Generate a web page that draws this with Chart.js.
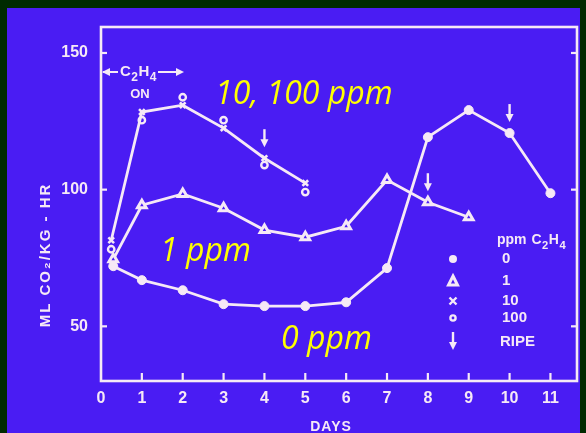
<!DOCTYPE html>
<html><head><meta charset="utf-8">
<script src="https://cdn.jsdelivr.net/npm/chart.js@4"></script>
<style>html,body{margin:0;padding:0;background:#002a00;overflow:hidden}canvas{display:block}</style>
</head><body>
<canvas id="c" width="586" height="433"></canvas>
<script>
// ---- data ----
const days0   = [0.3, 1, 2, 3, 4, 5, 6, 7, 8, 9, 10, 11];
const resp0   = [72.0, 66.9, 63.2, 58.1, 57.4, 57.4, 58.8, 71.3, 119.2, 129.1, 120.7, 98.7];
const days1   = [0.3, 1, 2, 3, 4, 5, 6, 7, 8, 9];
const resp1   = [74.5, 94.3, 98.4, 93.2, 85.2, 82.6, 86.6, 103.5, 95.4, 89.9];
const days10  = [0.25, 1, 2, 3, 4, 5];
const resp10  = [81.5, 128.4, 130.9, 122.5, 111.5, 102.4];
const days100 = [0.25, 1, 2, 3, 4, 5];
const resp100 = [78.2, 125.4, 133.8, 125.4, 109.0, 99.1];
const ripeDays   = [4, 8, 10];
const ripeValues = [111.5, 95.4, 120.7];
const xTicks = [0, 1, 2, 3, 4, 5, 6, 7, 8, 9, 10, 11];
const yTicks = [50, 100, 150];
const seriesLabels = ['0', '1', '10', '100'];
const ripeLabel = 'RIPE';
const xTitle = 'DAYS';
const yTitle = 'ML CO\u2082/KG - HR';
const notes = ['10, 100 ppm', '1 ppm', '0 ppm'];

const BLUE = '#4a1cf3';
const WHITE = '#f6e9f6';
const YELLOW = '#ffff00';
const LBL = 'bold 15px "Liberation Sans", "DejaVu Sans", sans-serif';

const pts = (xs, ys) => xs.map((x, i) => ({x: x, y: ys[i]}));

function arrowDown(ctx, x, yTop, yTip) {
  ctx.save();
  ctx.strokeStyle = WHITE; ctx.fillStyle = WHITE; ctx.lineWidth = 2.4;
  ctx.beginPath(); ctx.moveTo(x, yTop); ctx.lineTo(x, yTip - 5); ctx.stroke();
  ctx.beginPath(); ctx.moveTo(x - 4, yTip - 8); ctx.lineTo(x + 4, yTip - 8); ctx.lineTo(x, yTip); ctx.closePath(); ctx.fill();
  ctx.restore();
}
function subText(ctx, parts, x, y, size) {
  let cx = x;
  parts.forEach(p => {
    ctx.font = 'bold ' + (p[1] ? size * 0.8 : size) + 'px "Liberation Sans", "DejaVu Sans", sans-serif';
    ctx.fillText(p[0], cx, y + (p[1] ? size * 0.4 : 0));
    cx += ctx.measureText(p[0]).width + 0.5;
  });
  return cx;
}

const deco = {
  id: 'deco',
  beforeDraw(chart) {
    const ctx = chart.ctx;
    ctx.save();
    ctx.fillStyle = '#002a00'; ctx.fillRect(0, 0, chart.width, chart.height);
    ctx.fillStyle = BLUE; ctx.fillRect(7, 8, 573, 425);
    ctx.restore();
  },
  afterDatasetsDraw(chart) {
    const ctx = chart.ctx, a = chart.chartArea;
    const xs = chart.scales.x, ys = chart.scales.y;
    ctx.save();
    ctx.strokeStyle = WHITE; ctx.lineWidth = 2.6;
    ctx.strokeRect(a.left, a.top, a.right - a.left, a.bottom - a.top);
    ctx.lineWidth = 2.2;
    xTicks.forEach(v => { if (v === 0) return; const px = xs.getPixelForValue(v);
      ctx.beginPath(); ctx.moveTo(px, a.bottom); ctx.lineTo(px, a.bottom - 8); ctx.stroke(); });
    yTicks.forEach(v => { const py = ys.getPixelForValue(v);
      ctx.beginPath(); ctx.moveTo(a.left, py); ctx.lineTo(a.left + 6, py); ctx.stroke();
      ctx.beginPath(); ctx.moveTo(a.right, py); ctx.lineTo(a.right - 6, py); ctx.stroke(); });

    ctx.fillStyle = WHITE;
    ctx.textBaseline = 'middle'; ctx.textAlign = 'center';
    ctx.font = 'bold 14px "Liberation Sans", sans-serif';
    ctx.letterSpacing = '1px';
    ctx.fillText(xTitle, 331, 427);
    ctx.save();
    ctx.translate(46, 255); ctx.rotate(-Math.PI / 2);
    ctx.font = 'bold 15px "Liberation Sans", "DejaVu Sans", sans-serif';
    ctx.letterSpacing = '2px';
    ctx.fillText(yTitle, 0, 0);
    ctx.restore();
    ctx.letterSpacing = '0px';

    ctx.textAlign = 'left';
    const endX = subText(ctx, [['C', 0], ['2', 1], ['H', 0], ['4', 1]], 120, 72, 15);
    ctx.lineWidth = 2.2;
    ctx.beginPath(); ctx.moveTo(a.left + 2, 72); ctx.lineTo(118, 72); ctx.moveTo(endX + 1, 72); ctx.lineTo(181, 72); ctx.stroke();
    ctx.beginPath(); ctx.moveTo(a.left + 1, 72); ctx.lineTo(a.left + 9, 68); ctx.lineTo(a.left + 9, 76); ctx.closePath(); ctx.fill();
    ctx.beginPath(); ctx.moveTo(184, 72); ctx.lineTo(176, 68); ctx.lineTo(176, 76); ctx.closePath(); ctx.fill();
    ctx.font = 'bold 13px "Liberation Sans", sans-serif';
    ctx.textAlign = 'center';
    ctx.fillText('ON', 140, 94);

    ripeDays.forEach((d, i) => {
      const px = xs.getPixelForValue(d), py = ys.getPixelForValue(ripeValues[i]);
      arrowDown(ctx, px, py - 29, py - 11);
    });

    ctx.textAlign = 'left';
    const lx = 453, rows = [259, 281, 301, 318];
    subText(ctx, [['ppm', 0], [' ', 0], ['C', 0], ['2', 1], ['H', 0], ['4', 1]], 497, 240, 14);
    ctx.font = LBL;
    seriesLabels.forEach((t, i) => ctx.fillText(t, 502, rows[i]));
    ctx.fillText(ripeLabel, 500, 342);
    ctx.strokeStyle = WHITE; ctx.fillStyle = WHITE;
    ctx.beginPath(); ctx.arc(lx, rows[0], 4, 0, Math.PI * 2); ctx.fill();
    ctx.lineWidth = 3; ctx.fillStyle = BLUE;
    ctx.beginPath(); ctx.moveTo(lx, rows[1] - 5); ctx.lineTo(lx + 4.5, rows[1] + 4); ctx.lineTo(lx - 4.5, rows[1] + 4); ctx.closePath(); ctx.fill(); ctx.stroke();
    ctx.lineWidth = 2.4;
    ctx.beginPath(); ctx.moveTo(lx - 3.5, rows[2] - 3.5); ctx.lineTo(lx + 3.5, rows[2] + 3.5); ctx.moveTo(lx + 3.5, rows[2] - 3.5); ctx.lineTo(lx - 3.5, rows[2] + 3.5); ctx.stroke();
    ctx.beginPath(); ctx.arc(lx, rows[3], 2.6, 0, Math.PI * 2); ctx.fill(); ctx.stroke();
    arrowDown(ctx, lx, 332, 350);

    ctx.fillStyle = YELLOW; ctx.textBaseline = 'alphabetic'; ctx.textAlign = 'left';
    ctx.font = 'italic 32px "Open Sans", "Lato", sans-serif';
    ctx.fillText(notes[0], 215, 104);
    ctx.fillText(notes[1], 160, 261);
    ctx.fillText(notes[2], 281, 349);
    ctx.restore();
  }
};

const common = {borderColor: WHITE, borderWidth: 2.8, pointBorderColor: WHITE, tension: 0, fill: false};
new Chart(document.getElementById('c'), {
  type: 'line',
  data: {
    datasets: [
      Object.assign({}, common, {label: seriesLabels[0], data: pts(days0, resp0), pointStyle: 'circle', pointRadius: 4.5, pointBackgroundColor: WHITE, pointBorderWidth: 1}),
      Object.assign({}, common, {label: seriesLabels[1], data: pts(days1, resp1), pointStyle: 'triangle', pointRadius: 5, pointBackgroundColor: BLUE, pointBorderWidth: 3}),
      Object.assign({}, common, {label: seriesLabels[2], data: pts(days10, resp10), pointStyle: 'crossRot', pointRadius: 4, pointBorderWidth: 2.6}),
      Object.assign({}, common, {label: seriesLabels[3], data: pts(days100, resp100), showLine: false, pointStyle: 'circle', pointRadius: 3.2, pointBackgroundColor: BLUE, pointBorderWidth: 2.4})
    ]
  },
  options: {
    responsive: false, animation: false, devicePixelRatio: 1,
    layout: {padding: {top: 27, right: 9, left: 0, bottom: 0}},
    plugins: {legend: {display: false}, tooltip: {enabled: false}},
    scales: {
      x: {type: 'linear', min: 0, max: 11.65,
        afterBuildTicks: s => { s.ticks = xTicks.map(v => ({value: v})); },
        afterFit: s => { s.height = 52; },
        grid: {display: false, drawTicks: false}, border: {display: false},
        ticks: {color: WHITE, font: {family: '"Liberation Sans", sans-serif', size: 16, weight: 'bold'}, padding: 8, maxRotation: 0, autoSkip: false}
      },
      y: {type: 'linear', min: 30, max: 159.5,
        afterBuildTicks: s => { s.ticks = yTicks.map(v => ({value: v})); },
        afterFit: s => { s.width = 101; },
        grid: {display: false, drawTicks: false}, border: {display: false},
        ticks: {color: WHITE, font: {family: '"Liberation Sans", sans-serif', size: 16, weight: 'bold'}, padding: 13}
      }
    }
  },
  plugins: [deco]
});
</script>
</body></html>
